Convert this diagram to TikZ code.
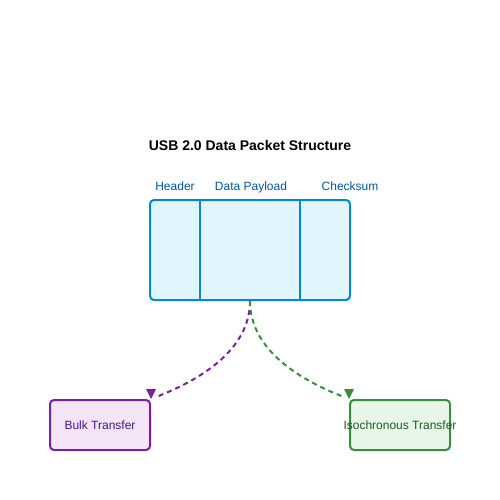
\documentclass[tikz,border=0pt]{standalone}
\usepackage{fontspec}
\setmainfont{Liberation Sans}
\usetikzlibrary{arrows.meta}
\definecolor{pktfill}{HTML}{E1F5FE}
\definecolor{pktline}{HTML}{0288D1}
\definecolor{pkttext}{HTML}{01579B}
\definecolor{bulkfill}{HTML}{F3E5F5}
\definecolor{bulkline}{HTML}{7B1FA2}
\definecolor{bulktext}{HTML}{4A148C}
\definecolor{isofill}{HTML}{E8F5E9}
\definecolor{isoline}{HTML}{388E3C}
\definecolor{isotext}{HTML}{1B5E20}
\tikzset{
  box/.style={draw, line width=2pt, rounded corners=4pt, minimum width=100pt, minimum height=50pt, inner sep=0pt},
  boxlbl/.style={inner sep=0pt, font=\fontsize{12}{14}\selectfont},
  fieldlbl/.style={text=pkttext, font=\fontsize{12}{14}\selectfont, inner sep=0pt, anchor=base},
  flow/.style={line width=2pt, dash pattern=on 5pt off 4pt}
}
\begin{document}
\begin{tikzpicture}[x=1pt,y=-1pt]
\useasboundingbox[fill=white] (0,0) rectangle (500,500);
\node[font=\bfseries\fontsize{14}{16}\selectfont] (title) at (250,145) {USB 2.0 Data Packet Structure};
\node[fieldlbl] (lh) at (175,190) {Header};
\node[fieldlbl] (lp) at (251,190) {Data Payload};
\node[fieldlbl] (lc) at (350,190) {Checksum};
\node[draw=pktline, fill=pktfill, line width=2pt, rounded corners=4pt, minimum width=200pt, minimum height=100pt, inner sep=0pt] (pkt) at (250,250) {};
\draw[pktline, line width=2pt] (200,200) -- (200,300);
\draw[pktline, line width=2pt] (300,200) -- (300,300);
\node[box, draw=bulkline, fill=bulkfill] (bulk) at (100,425) {};
\node[boxlbl, text=bulktext] (bulklbl) at (bulk.center) {Bulk Transfer};
\node[box, draw=isoline, fill=isofill] (iso) at (400,425) {};
\node[boxlbl, text=isotext] (isolbl) at (iso.center) {Isochronous Transfer};
\coordinate (bt) at (bulk.north east);
\coordinate (it) at (iso.north west);
\draw[flow, bulkline] (pkt.south) .. controls (250,350) and (200,380) .. ([shift={(5,-2)}]bt);
\fill[bulkline] ([shift={(-5,-10)}]bt) -- ([shift={(5,-10)}]bt) -- (bt) -- cycle;
\draw[flow, isoline] (pkt.south) .. controls (250,350) and (300,380) .. ([shift={(-5,-2)}]it);
\fill[isoline] ([shift={(-5,-10)}]it) -- ([shift={(5,-10)}]it) -- (it) -- cycle;
\end{tikzpicture}
\end{document}
